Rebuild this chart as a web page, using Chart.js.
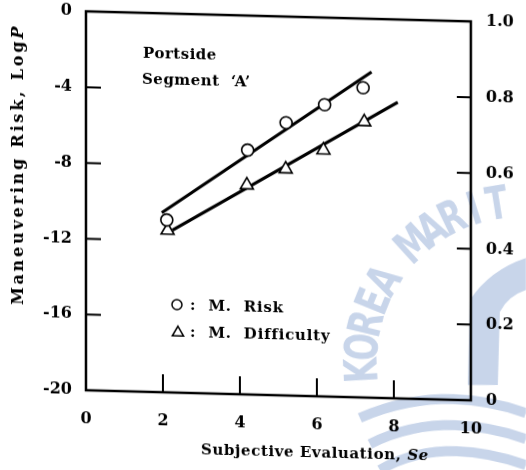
<!DOCTYPE html>
<html>
<head>
<meta charset="utf-8">
<script src="https://cdn.jsdelivr.net/npm/chart.js@4.4.1/dist/chart.umd.min.js"></script>
<style>
  html, body { margin: 0; padding: 0; background: #fff; overflow: hidden; }
  #wrap { width: 526px; height: 470px; position: relative; overflow: hidden; }
  /* the scanned figure is slightly sheared, reproduce that */
  #chart { transform-origin: 0 0; transform: skewY(1.5deg); }
</style>
</head>
<body>
<div id="wrap"><canvas id="chart" width="526" height="470"></canvas></div>
<script>
// Portside Segment 'A' - maneuvering risk vs subjective evaluation

// Measured points
const riskX = [2.1, 4.2, 5.2, 6.2, 7.2];
const riskY = [-10.9, -7.1, -5.6, -4.6, -3.65];
const diffX = [2.12, 4.18, 5.19, 6.17, 7.23];
const diffY = [-11.45, -8.95, -8.05, -7.0, -5.45];

// Fitted lines (end points)
const riskFitX = [1.97, 7.42];
const riskFitY = [-10.52, -2.8];
const diffFitX = [2.25, 8.1];
const diffFitY = [-11.43, -4.37];

// Tick labels
const xTicks = [0, 2, 4, 6, 8, 10];
const yLeftTicks = [0, -4, -8, -12, -16, -20];
const yRightTicks = [0, 0.2, 0.4, 0.6, 0.8, 1.0];

const FONT = '"DejaVu Serif", "Liberation Serif", serif';
const WM = '#c8d5ea';
const SKEW = Math.tan(1.5 * Math.PI / 180);

const toPoints = (xs, ys) => xs.map((x, i) => ({ x: x, y: ys[i] }));

// Faint library watermark behind the plot (not sheared like the scan)
const watermark = {
    id: 'watermark',
    beforeDraw(chart) {
        const ctx = chart.ctx;
        ctx.save();
        ctx.transform(1, -SKEW, 0, 1, 0, 0);
        ctx.fillStyle = WM;
        ctx.strokeStyle = WM;

        // emblem: bar with a cap, and waves
        ctx.beginPath();
        ctx.moveTo(470, 300);
        ctx.quadraticCurveTo(490, 270, 526, 258);
        ctx.lineTo(526, 290);
        ctx.quadraticCurveTo(508, 296, 500, 312);
        ctx.lineTo(498, 385);
        ctx.lineTo(468, 385);
        ctx.closePath();
        ctx.fill();
        ctx.lineWidth = 10;
        [408, 434, 460].forEach((y0, i) => {
            ctx.beginPath();
            ctx.moveTo(360 + i * 10, y0 + 10);
            ctx.quadraticCurveTo(440, y0 - 25, 526, y0 + 5);
            ctx.stroke();
        });

        // lettering on a circle
        const text = 'KOREA MARIT';
        const cx = 522, cy = 362, r = 157;
        let ang = 177 * Math.PI / 180;
        const step = 8.4 * Math.PI / 180;
        ctx.font = 'bold 46px "DejaVu Sans Condensed", "DejaVu Sans", sans-serif';
        ctx.textAlign = 'center';
        ctx.textBaseline = 'middle';
        for (const ch of text) {
            ctx.save();
            ctx.translate(cx + r * Math.cos(ang), cy + r * Math.sin(ang));
            ctx.rotate(ang + Math.PI / 2);
            ctx.scale(0.78, 1);
            ctx.fillText(ch, 0, 0);
            ctx.restore();
            ang += step;
        }
        ctx.restore();
    }
};

// Frame, inner ticks, titles, annotations
const decorations = {
    id: 'decorations',
    afterDraw(chart) {
        const ctx = chart.ctx;
        const a = chart.chartArea;
        const x = chart.scales.x;
        const yl = chart.scales.y;
        const yr = chart.scales.y2;

        ctx.save();
        ctx.strokeStyle = '#000';
        ctx.lineWidth = 2.5;
        ctx.strokeRect(a.left, a.top, a.right - a.left, a.bottom - a.top);

        ctx.lineWidth = 2;
        ctx.beginPath();
        [-4, -8, -12, -16].forEach(v => {
            const py = yl.getPixelForValue(v);
            ctx.moveTo(a.left, py);
            ctx.lineTo(a.left + 15, py);
        });
        [0.2, 0.4, 0.6, 0.8].forEach(v => {
            const py = yr.getPixelForValue(v);
            ctx.moveTo(a.right, py);
            ctx.lineTo(a.right - 14, py);
        });
        [2, 4, 6, 8].forEach(v => {
            const px = x.getPixelForValue(v);
            ctx.moveTo(px, a.bottom);
            ctx.lineTo(px, a.bottom - 18);
        });
        ctx.stroke();

        ctx.fillStyle = '#000';
        ctx.textBaseline = 'middle';
        ctx.textAlign = 'left';

        // x title
        ctx.letterSpacing = '0.6px';
        ctx.font = 'bold 15px ' + FONT;
        const t1 = 'Subjective Evaluation, ';
        const w1 = ctx.measureText(t1).width;
        ctx.font = 'bold italic 15px ' + FONT;
        const w2 = ctx.measureText('Se').width;
        let sx = 315 - (w1 + w2) / 2;
        ctx.font = 'bold 15px ' + FONT;
        ctx.fillText(t1, sx, 445);
        ctx.font = 'bold italic 15px ' + FONT;
        ctx.fillText('Se', sx + w1, 445);

        // y title
        ctx.save();
        ctx.translate(19, 164);
        ctx.rotate(-Math.PI / 2);
        ctx.letterSpacing = '2.8px';
        ctx.font = 'bold 16px ' + FONT;
        const y1 = 'Maneuvering Risk, Log';
        const yw1 = ctx.measureText(y1).width;
        ctx.font = 'bold italic 16px ' + FONT;
        const yw2 = ctx.measureText('P').width;
        sx = -(yw1 + yw2) / 2;
        ctx.font = 'bold 16px ' + FONT;
        ctx.fillText(y1, sx, 0);
        ctx.font = 'bold italic 16px ' + FONT;
        ctx.fillText('P', sx + yw1, 0);
        ctx.restore();

        // annotation
        ctx.letterSpacing = '0.5px';
        ctx.font = 'bold 15px ' + FONT;
        ctx.fillText('Portside', 143, 50);
        ctx.fillText('Segment  \u2018A\u2019', 142, 76);

        // legend
        ctx.letterSpacing = '0.8px';
        ctx.fillText(':  M.  Risk', 190, 301);
        ctx.fillText(':  M.  Difficulty', 190, 328);
        ctx.letterSpacing = '0px';
        ctx.fillStyle = '#fff';
        ctx.lineWidth = 1.5;
        Chart.helpers.drawPoint(ctx, { pointStyle: 'circle', radius: 5, borderWidth: 1.5 }, 177, 300);
        Chart.helpers.drawPoint(ctx, { pointStyle: 'triangle', radius: 6.5, borderWidth: 1.5 }, 178, 328);
        ctx.restore();
    }
};

// keep tick padding from pushing the plot area around
const noVPad = s => { s.paddingTop = 0; s.paddingBottom = 0; };

new Chart(document.getElementById('chart'), {
    type: 'scatter',
    data: {
        datasets: [
            {
                label: 'Risk fit',
                type: 'line',
                data: toPoints(riskFitX, riskFitY),
                borderColor: '#000',
                borderWidth: 3,
                pointRadius: 0,
                order: 3
            },
            {
                label: 'Difficulty fit',
                type: 'line',
                data: toPoints(diffFitX, diffFitY),
                borderColor: '#000',
                borderWidth: 3,
                pointRadius: 0,
                order: 3
            },
            {
                label: 'M. Risk',
                data: toPoints(riskX, riskY),
                pointStyle: 'circle',
                pointRadius: 6,
                borderColor: '#000',
                backgroundColor: '#fff',
                borderWidth: 1.6,
                order: 1
            },
            {
                label: 'M. Difficulty',
                data: toPoints(diffX, diffY),
                pointStyle: 'triangle',
                pointRadius: 7.5,
                borderColor: '#000',
                backgroundColor: '#fff',
                borderWidth: 1.6,
                order: 1
            }
        ]
    },
    options: {
        responsive: false,
        animation: false,
        layout: { padding: { left: 0, right: 0, top: 8, bottom: 0 } },
        plugins: { legend: { display: false }, tooltip: { enabled: false } },
        scales: {
            x: {
                type: 'linear',
                min: 0, max: 10,
                afterBuildTicks: s => { s.ticks = xTicks.map(v => ({ value: v })); },
                grid: { display: false, drawTicks: false },
                border: { display: false },
                ticks: { padding: 19, color: '#000', font: { family: FONT, size: 16, weight: 'bold' } },
                afterFit: s => { s.height = 82; s.paddingLeft = 0; s.paddingRight = 0; }
            },
            y: {
                type: 'linear',
                position: 'left',
                min: -20, max: 0,
                afterBuildTicks: s => { s.ticks = yLeftTicks.map(v => ({ value: v })); },
                grid: { display: false, drawTicks: false },
                border: { display: false },
                ticks: { padding: 14, color: '#000', font: { family: FONT, size: 16, weight: 'bold' } },
                afterFit: s => { s.width = 86; noVPad(s); }
            },
            y2: {
                type: 'linear',
                position: 'right',
                min: 0, max: 1,
                afterBuildTicks: s => { s.ticks = yRightTicks.map(v => ({ value: v })); },
                grid: { display: false, drawTicks: false },
                border: { display: false },
                ticks: {
                    padding: 15, color: '#000',
                    font: { family: FONT, size: 16, weight: 'bold' },
                    callback: v => (v === 0 ? '0' : v.toFixed(1))
                },
                afterFit: s => { s.width = 55; noVPad(s); }
            }
        }
    },
    plugins: [watermark, decorations]
});
</script>
</body>
</html>
